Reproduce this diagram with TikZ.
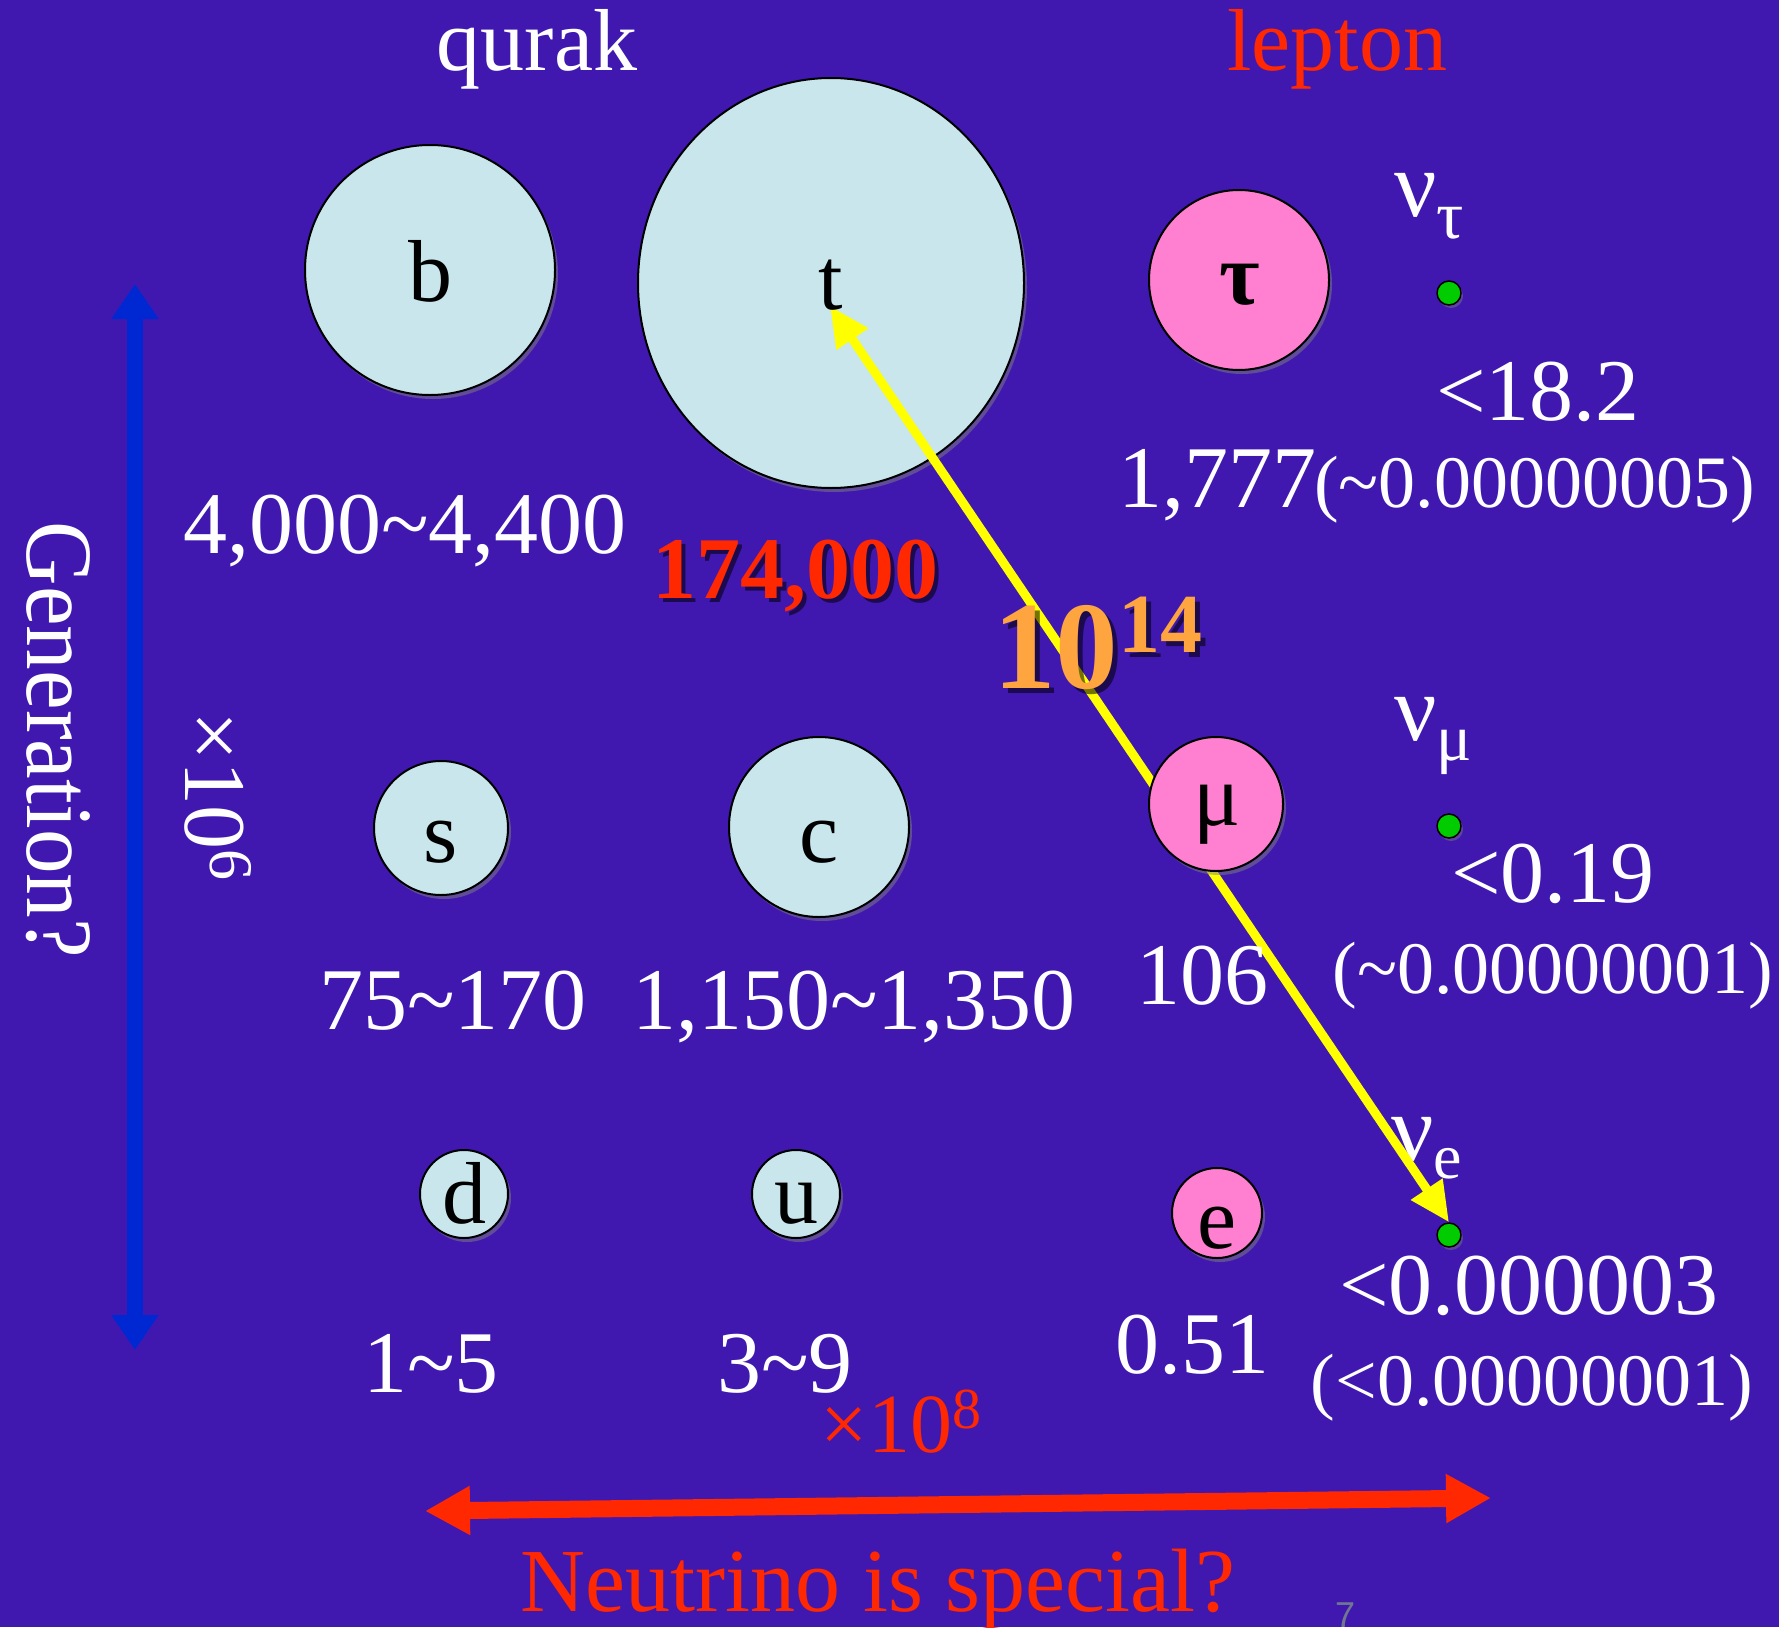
\documentclass[tikz,border=0pt]{standalone}
\usepackage{fontspec}
\setmainfont{Liberation Serif}
\newfontfamily\sansf{Liberation Sans}
\usetikzlibrary{shapes.geometric,shadows,arrows.meta}
\definecolor{bg}{RGB}{64,24,176}
\definecolor{qblue}{RGB}{200,230,236}
\definecolor{lpink}{RGB}{255,128,208}
\definecolor{ngreen}{RGB}{0,204,0}
\definecolor{ared}{RGB}{255,40,0}
\definecolor{aorange}{RGB}{255,165,64}
\definecolor{ablue}{RGB}{0,40,210}
\definecolor{ayellow}{RGB}{255,255,0}
\definecolor{pgray}{RGB}{112,120,144}
\newcommand\fsz[1]{\fontsize{#1pt}{#1pt}\selectfont}
\begin{document}
\begin{tikzpicture}[x=1pt,y=-1pt,
  ball/.style={circle, draw=black, line width=2pt, inner sep=0,
    drop shadow={opacity=0.5, shadow xshift=3pt, shadow yshift=-4pt}},
  quark/.style={ball, fill=qblue},
  lep/.style={ball, fill=lpink},
  nudot/.style={circle, draw=black, line width=1.5pt, fill=ngreen, minimum size=24pt, inner sep=0,
    drop shadow={opacity=0.45, shadow xshift=2pt, shadow yshift=-3pt}},
  lbl/.style={inner sep=0, anchor=base, text=black, font={\fsz{88}}},
  num/.style={inner sep=0, anchor=base, text=white, font={\fsz{88}}},
  small/.style={inner sep=0, anchor=base, text=white, font={\fsz{74}}},
  nulbl/.style={inner sep=0, anchor=base west, text=white, font={\fsz{94}}},
  redarr/.style={draw=ared, line width=17pt, {Triangle[length=45pt,width=46pt]}-{Triangle[length=45pt,width=46pt]}},
  bluearr/.style={draw=ablue, line width=16pt, {Triangle[length=35pt,width=45pt]}-{Triangle[length=35pt,width=45pt]}},
  yarr/.style={draw=ayellow, line width=9pt, {Triangle[length=40pt,width=36pt]}-{Triangle[length=40pt,width=36pt]}},
  shadowtxt/.style={text=black, opacity=0.55}
]
\useasboundingbox (0,0) rectangle (1779,1627);
\fill[bg] (0,0) rectangle (1779,1627);

% headers
\node[num] (qh) at (537,71) {qurak};
\node[num, text=ared] (lh) at (1337,71) {lepton};

% big quark circles
\node[quark, minimum size=250pt] (b) at (430,270) {};
\node[quark, ellipse, minimum width=386pt, minimum height=410pt] (t) at (831,283) {};

% neutrino labels
\node[nulbl] (nutl) at (1394,216) {ν\raisebox{-22pt}{\fsz{68}τ}};
\node[nulbl] (numl) at (1394,740) {ν\raisebox{-20pt}{\fsz{66}μ}};
\node[nulbl] (nuel) at (1391,1160) {ν\raisebox{-18pt}{\fsz{64}e}};

% neutrino dots
\node[nudot] (nut) at (1449,293) {};
\node[nudot] (num) at (1449,826) {};
\node[nudot] (nue) at (1449,1235) {};

% yellow arrow
\coordinate (yt) at (830,306);
\draw[yarr] (yt) -- (nue.north);

% other circles
\node[lep, minimum size=180pt] (tau) at (1239,280) {};
\node[quark, minimum size=134pt] (s) at (441,828) {};
\node[quark, minimum size=180pt] (c) at (819,827) {};
\node[lep, minimum size=134pt] (mu) at (1216,804) {};
\node[quark, minimum size=88pt] (d) at (464,1194) {};
\node[quark, minimum size=88pt] (u) at (796,1194) {};
\node[lep, minimum size=90pt] (e) at (1217,1213) {};

% letters
\node[lbl] (bl) at (430,301) {b};
\node[lbl] (tl) at (831,309) {t};
\node[lbl, font={\bfseries\fsz{88}}] (taul) at (1240,304) {τ};
\node[lbl] (sl) at (441,862) {s};
\node[lbl] (cl) at (819,862) {c};
\node[lbl] (mul) at (1217,825) {μ};
\node[lbl] (dl) at (464,1223) {d};
\node[lbl] (ul) at (796,1223) {u};
\node[lbl] (el) at (1217,1248) {e};

% masses
\node[num] (mb) at (405,553) {4,000\textasciitilde 4,400};
\node[num, shadowtxt, font={\bfseries\fsz{88}}] (mts) at (799,602) {174,000};
\node[num, text=ared, font={\bfseries\fsz{88}}] (mt) at (795,598) {174,000};
\node[num, anchor=base west] (mtau) at (1118,507) {1,777};
\node[small, anchor=base west] (mtau2) at (1314,507) {(\textasciitilde 0.00000005)};
\node[num] (mnt) at (1538,420) {<18.2};

\node[num, anchor=base west, shadowtxt, font={\bfseries\fsz{125}}] (ratios) at (998,693)
  {10\raisebox{36pt}{\fsz{84}14}};
\node[num, anchor=base west, text=aorange, font={\bfseries\fsz{125}}] (ratio) at (993,688)
  {10\raisebox{36pt}{\fsz{84}14}};

\node[num] (ms) at (453,1029) {75\textasciitilde 170};
\node[num] (mc) at (854,1029) {1,150\textasciitilde 1,350};
\node[num] (mmu) at (1202,1004) {106};
\node[num] (mnm) at (1553,902) {<0.19};
\node[small] (mnm2) at (1553,993) {(\textasciitilde 0.00000001)};

\node[num] (md) at (431,1392) {1\textasciitilde 5};
\node[num] (mu2) at (785,1392) {3\textasciitilde 9};
\node[num] (me) at (1192,1373) {0.51};
\node[num] (mne) at (1529,1314) {<0.000003};
\node[small] (mne2) at (1532,1405) {(<0.00000001)};

% factor labels
\node[num, text=ared, font={\fsz{84}}] (f8) at (901,1452) {×10\raisebox{24pt}{\fsz{58}8}};
\node[num, anchor=center, rotate=-90] (f6) at (218,796) {\fsz{88}×10\raisebox{25pt}{\fsz{62}6}};
\node[num, anchor=center, rotate=-90] (gen) at (58,740) {\scalebox{0.94}[1]{\fsz{95}Generation?}};

% arrows
\coordinate (bt) at (135,284);
\coordinate (bb) at (135,1350);
\draw[bluearr] (bt) -- (bb);
\coordinate (rl) at (425,1511);
\coordinate (rr) at (1491,1498);
\draw[redarr] (rl) -- (rr);

\node[num, text=ared, font={\fsz{90}}] (neu) at (878,1611) {Neutrino is special?};
\node[inner sep=0, anchor=north, text=pgray, font={\sansf\fsz{36}}] (pg) at (1345,1603) {7};
\end{tikzpicture}
\end{document}
